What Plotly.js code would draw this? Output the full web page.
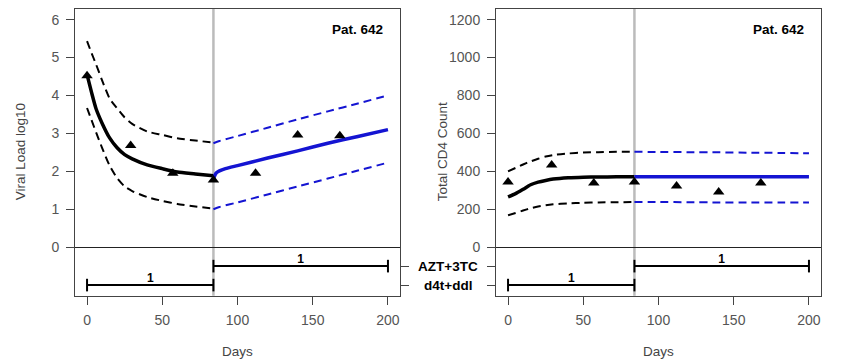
<!DOCTYPE html>
<html>
<head>
<meta charset="utf-8">
<script src="https://cdn.plot.ly/plotly-3.0.1.min.js"></script>
<style>html,body{margin:0;padding:0;background:#fff;}#chart{width:850px;height:359px;}</style>
</head>
<body>
<div id="chart"></div>
<script>
// ---------- data ----------
const patientLabel = 'Pat. 642';
const switchDay = 84;

// Viral load (log10)
const vlDaysA   = [0, 3, 6, 10, 15, 20, 25, 30, 40, 50, 60, 72, 84];
const vlFitA    = [4.55, 4.08, 3.65, 3.27, 2.88, 2.62, 2.44, 2.33, 2.17, 2.07, 1.98, 1.93, 1.88];
const vlUpperA  = [5.43, 5.12, 4.82, 4.40, 3.92, 3.66, 3.42, 3.25, 3.05, 2.96, 2.87, 2.81, 2.76];
const vlLowerA  = [3.67, 3.35, 3.03, 2.62, 2.15, 1.82, 1.60, 1.48, 1.32, 1.22, 1.14, 1.07, 1.02];
const vlDaysB   = [84, 85, 86, 88, 92, 100, 120, 140, 160, 180, 200];
const vlFitB    = [1.80, 1.90, 1.96, 2.01, 2.07, 2.15, 2.35, 2.54, 2.74, 2.92, 3.10];
const vlBandDaysB = [84, 88, 100, 120, 140, 160, 180, 200];
const vlUpperB  = [2.74, 2.80, 2.93, 3.15, 3.37, 3.58, 3.79, 4.00];
const vlLowerB  = [1.00, 1.06, 1.18, 1.39, 1.60, 1.81, 2.02, 2.23];
const obsDays   = [0, 29, 57, 84, 112, 140, 168];
const vlObs     = [4.52, 2.68, 1.95, 1.77, 1.95, 2.96, 2.94];

// Total CD4 count
const cdDaysA   = [0, 5, 10, 15, 20, 25, 30, 40, 50, 60, 72, 84];
const cdFitA    = [265, 282, 305, 329, 343, 352, 359, 366, 369, 370, 371, 371];
const cdUpperA  = [400, 418, 436, 452, 466, 478, 486, 494, 499, 501, 503, 503];
const cdLowerA  = [168, 180, 193, 205, 214, 221, 226, 231, 234, 236, 237, 238];
const cdDaysB   = [84, 100, 120, 140, 160, 180, 200];
const cdFitB    = [371, 371, 371, 371, 371, 371, 371];
const cdUpperB  = [503, 502, 501, 500, 498, 497, 495];
const cdLowerB  = [238, 238, 237, 236, 236, 235, 235];
const cdObs     = [344, 433, 339, 344, 323, 291, 339];

// Treatments
const treatNames = ['AZT+3TC', 'd4t+ddl'];
const treatStart = [84, 0];
const treatEnd   = [200, 84];
const treatDose  = ['1', '1'];
const treatRowVL = [-0.5, -1];
const treatRowCD = [-100, -200];

const xTicks = [0, 50, 100, 150, 200];
const vlTicks = [0, 1, 2, 3, 4, 5, 6];
const cdTicks = [0, 200, 400, 600, 800, 1000, 1200];

// ---------- styling ----------
const BLUE = '#1414d2';
const FONT = 'Liberation Sans, Arial, sans-serif';
const DASH = '8px,5px';

function line(x, y, xa, ya, color, width, dash) {
  return {x: x, y: y, xaxis: xa, yaxis: ya, type: 'scatter', mode: 'lines',
    line: {color: color, width: width, dash: dash || 'solid', shape: 'spline', smoothing: 0.6},
    hoverinfo: 'skip', showlegend: false};
}
function pts(x, y, xa, ya) {
  return {x: x, y: y, xaxis: xa, yaxis: ya, type: 'scatter', mode: 'markers',
    marker: {symbol: 'triangle-up', size: 10, color: '#000'}, hoverinfo: 'skip', showlegend: false};
}
function treat(rows, xa, ya) {
  const out = [];
  for (let i = 0; i < treatNames.length; i++) {
    out.push({x: [treatStart[i], treatEnd[i]], y: [rows[i], rows[i]], xaxis: xa, yaxis: ya,
      type: 'scatter', mode: 'lines+markers', line: {color: '#000', width: 2},
      marker: {symbol: 'line-ns-open', size: 9, line: {width: 2, color: '#000'}},
      hoverinfo: 'skip', showlegend: false, cliponaxis: false});
    out.push({x: [(treatStart[i] + treatEnd[i]) / 2], y: [rows[i]], xaxis: xa, yaxis: ya,
      type: 'scatter', mode: 'text', text: [treatDose[i]], textposition: 'top center',
      textfont: {family: FONT, size: 12, color: '#000', weight: 'bold'},
      hoverinfo: 'skip', showlegend: false});
  }
  return out;
}

const traces = [
  line(vlDaysA, vlUpperA, 'x', 'y', '#000', 2, DASH),
  line(vlDaysA, vlLowerA, 'x', 'y', '#000', 2, DASH),
  line(vlDaysA, vlFitA, 'x', 'y', '#000', 3.5),
  line(vlBandDaysB, vlUpperB, 'x', 'y', BLUE, 2, DASH),
  line(vlBandDaysB, vlLowerB, 'x', 'y', BLUE, 2, DASH),
  line(vlDaysB, vlFitB, 'x', 'y', BLUE, 3.5),
  pts(obsDays, vlObs, 'x', 'y'),
  line(cdDaysA, cdUpperA, 'x2', 'y2', '#000', 2, DASH),
  line(cdDaysA, cdLowerA, 'x2', 'y2', '#000', 2, DASH),
  line(cdDaysA, cdFitA, 'x2', 'y2', '#000', 3.5),
  line(cdDaysB, cdUpperB, 'x2', 'y2', BLUE, 2, DASH),
  line(cdDaysB, cdLowerB, 'x2', 'y2', BLUE, 2, DASH),
  line(cdDaysB, cdFitB, 'x2', 'y2', BLUE, 3.5),
  pts(obsDays, cdObs, 'x2', 'y2'),
  {x: [null], y: [null], xaxis: 'x', yaxis: 'y3', type: 'scatter', mode: 'markers', showlegend: false, hoverinfo: 'skip'}
].concat(treat(treatRowVL, 'x', 'y'), treat(treatRowCD, 'x2', 'y2'));

const W = 850, H = 359;
const yDom = [1 - 295.7 / H, 1 - 9 / H];
const tickFont = {family: FONT, size: 14, color: '#555'};
const titleFont = {family: FONT, size: 13.5, color: '#444'};

function xAxis(domain, anchor) {
  return {domain: domain, anchor: anchor, range: [-8, 208], tickvals: xTicks,
    ticks: 'outside', ticklen: 8, tickcolor: '#444', tickwidth: 1,
    showline: true, mirror: true, linecolor: '#444', linewidth: 1,
    showgrid: false, zeroline: false, tickfont: tickFont, ticklabelstandoff: 3,
    title: {text: 'Days', font: titleFont, standoff: 23}};
}
function yAxis(anchor, range, vals, text) {
  return {domain: yDom, anchor: anchor, range: range, tickvals: vals, ticktext: text,
    ticks: 'outside', ticklen: 8, tickcolor: '#444', tickwidth: 1,
    showline: true, mirror: true, linecolor: '#444', linewidth: 1,
    showgrid: false, zeroline: true, zerolinecolor: '#222', zerolinewidth: 1,
    tickfont: tickFont, ticklabelstandoff: 4};
}

const yMid = (yDom[0] + yDom[1]) / 2;
const annotations = [
  {xref: 'x domain', yref: 'y domain', x: 0.955, y: 0.93, xanchor: 'right', yanchor: 'middle',
   text: patientLabel, showarrow: false, font: {family: FONT, size: 13.5, color: '#000', weight: 'bold'}},
  {xref: 'x2 domain', yref: 'y2 domain', x: 0.955, y: 0.93, xanchor: 'right', yanchor: 'middle',
   text: patientLabel, showarrow: false, font: {family: FONT, size: 13.5, color: '#000', weight: 'bold'}},
  {xref: 'paper', yref: 'paper', x: 20 / W, y: yMid, xanchor: 'center', yanchor: 'middle', textangle: -90,
   text: 'Viral Load log10', showarrow: false, font: titleFont},
  {xref: 'paper', yref: 'paper', x: 442 / W, y: yMid, xanchor: 'center', yanchor: 'middle', textangle: -90,
   text: 'Total CD4 Count', showarrow: false, font: titleFont}
];
for (let i = 0; i < treatNames.length; i++) {
  annotations.push({xref: 'paper', yref: 'y', x: 448 / W, y: treatRowVL[i], xanchor: 'center', yanchor: 'middle',
    text: treatNames[i], showarrow: false, font: {family: FONT, size: 13.5, color: '#000', weight: 'bold'}});
}

const layout = {
  width: W, height: H,
  margin: {l: 0, r: 0, t: 0, b: 0},
  paper_bgcolor: '#fff', plot_bgcolor: '#fff',
  showlegend: false,
  xaxis: xAxis([75 / W, 400 / W], 'y'),
  yaxis: yAxis('x', [-1.28, 6.28], vlTicks, vlTicks.map(String)),
  yaxis3: {overlaying: 'y', anchor: 'x', side: 'right', range: [-1.28, 6.28],
    tickvals: treatRowVL, ticks: 'outside', ticklen: 8, tickcolor: '#444',
    showticklabels: false, showline: false, showgrid: false, zeroline: false},
  xaxis2: xAxis([496 / W, 821 / W], 'y2'),
  yaxis2: yAxis('x2', [-256, 1256], treatRowCD.concat(cdTicks), treatRowCD.map(() => '').concat(cdTicks.map(String))),
  shapes: [
    {type: 'line', xref: 'x', yref: 'y domain', x0: switchDay, x1: switchDay, y0: 0, y1: 1, line: {color: '#bbbbbb', width: 2.5}, layer: 'below'},
    {type: 'line', xref: 'x2', yref: 'y2 domain', x0: switchDay, x1: switchDay, y0: 0, y1: 1, line: {color: '#bbbbbb', width: 2.5}, layer: 'below'}
  ],
  annotations: annotations
};

Plotly.newPlot('chart', traces, layout, {displayModeBar: false, staticPlot: true});
</script>
</body>
</html>
